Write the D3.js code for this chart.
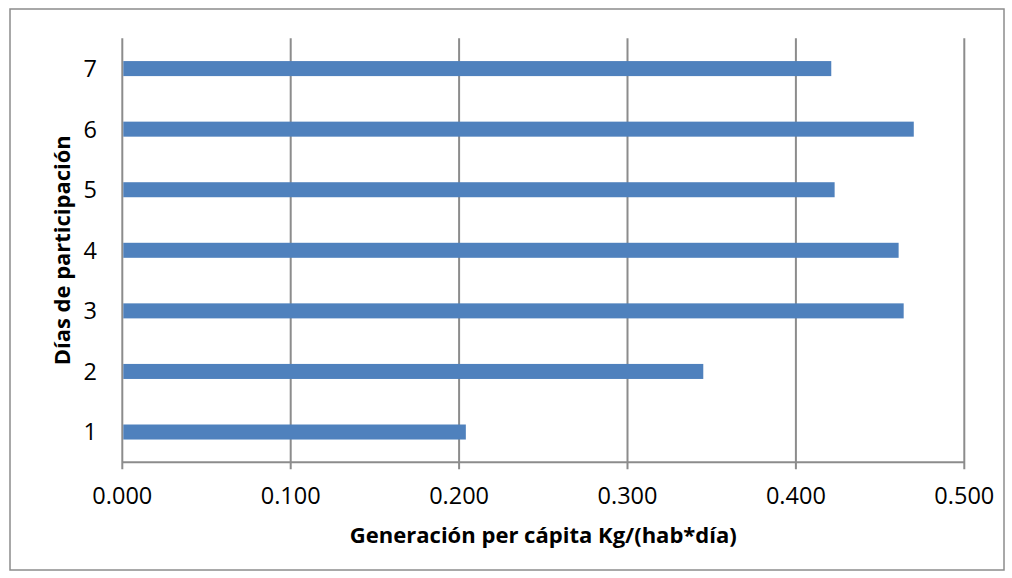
<!DOCTYPE html>
<html>
<head>
<meta charset="utf-8">
<script src="https://cdn.jsdelivr.net/npm/d3@7"></script>
<style>
  html, body { margin: 0; padding: 0; background: #fff; }
  svg { display: block; }
  text { font-family: "Open Sans", "Noto Sans", sans-serif; fill: #000; }
</style>
</head>
<body>
<svg id="chart" width="1012" height="578"></svg>
<script>
const categories = ["1", "2", "3", "4", "5", "6", "7"];
const values = [0.204, 0.345, 0.464, 0.461, 0.423, 0.470, 0.421];
const xTicks = [0, 0.1, 0.2, 0.3, 0.4, 0.5];
const xTitle = "Generación per cápita Kg/(hab*día)";
const yTitle = "Días de participación";

const svg = d3.select("#chart");
const W = 1012, H = 578;
const m = { left: 122.3, right: 964.3, top: 38.3, bottom: 462.3 };

svg.append("rect")
  .attr("x", 10).attr("y", 9).attr("width", 994).attr("height", 561)
  .attr("fill", "#fff").attr("stroke", "#8c8c8c").attr("stroke-width", 1.5);

const x = d3.scaleLinear().domain([0, 0.5]).range([m.left, m.right]);
const y = d3.scaleBand().domain(categories.slice().reverse())
  .range([m.top, m.bottom]).paddingInner(0.752).paddingOuter(0.376);

const g = svg.append("g");

// vertical gridlines
g.selectAll("line.grid").data(xTicks).enter().append("line")
  .attr("class", "grid")
  .attr("x1", d => x(d)).attr("x2", d => x(d))
  .attr("y1", m.top).attr("y2", m.bottom + 7)
  .attr("stroke", "#8c8c8c").attr("stroke-width", 2);

// x axis line
g.append("line")
  .attr("x1", m.left).attr("x2", m.right)
  .attr("y1", m.bottom).attr("y2", m.bottom)
  .attr("stroke", "#8c8c8c").attr("stroke-width", 2);

// bars
g.selectAll("rect.bar").data(categories).enter().append("rect")
  .attr("class", "bar")
  .attr("x", x(0) + 1)
  .attr("y", d => y(d))
  .attr("width", (d, i) => x(values[i]) - x(0) - 1)
  .attr("height", y.bandwidth())
  .attr("fill", "#4f81bd");

// x tick labels
const fmt = d3.format(".3f");
g.selectAll("text.xt").data(xTicks).enter().append("text")
  .attr("class", "xt")
  .attr("x", d => x(d)).attr("y", 504)
  .attr("text-anchor", "middle")
  .style("font-size", "23.5px")
  .text(d => fmt(d));

// y tick labels
g.selectAll("text.yt").data(categories).enter().append("text")
  .attr("class", "yt")
  .attr("x", 97).attr("y", d => y(d) + y.bandwidth() / 2)
  .attr("dy", "0.36em")
  .attr("text-anchor", "end")
  .style("font-size", "23.5px")
  .text(d => d);

// axis titles
const xt = svg.append("text")
  .attr("x", (m.left + m.right) / 2).attr("y", 543)
  .attr("text-anchor", "middle")
  .style("font-size", "21px").style("font-weight", "bold")
  .text(xTitle);
const xw = xt.node().getComputedTextLength();
if (Math.abs(xw - 387) > 4) xt.attr("textLength", 387).attr("lengthAdjust", "spacingAndGlyphs");

const yt = svg.append("text")
  .attr("transform", `translate(70, ${(m.top + m.bottom) / 2}) rotate(-90)`)
  .attr("text-anchor", "middle")
  .style("font-size", "21px").style("font-weight", "bold")
  .text(yTitle);
const yw = yt.node().getComputedTextLength();
if (Math.abs(yw - 230) > 4) yt.attr("textLength", 230).attr("lengthAdjust", "spacingAndGlyphs");
</script>
</body>
</html>
